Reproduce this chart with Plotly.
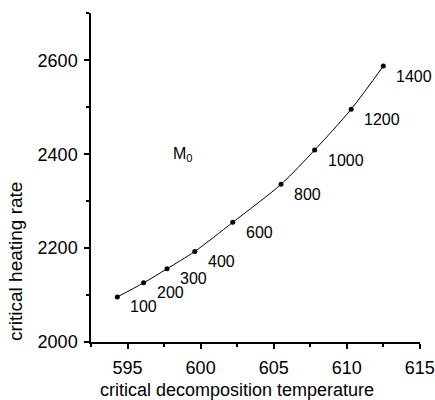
import plotly.graph_objects as go

temperature = [594.3, 596.1, 597.7, 599.6, 602.2, 605.5, 607.8, 610.3, 612.5]
heating_rate = [2096, 2126, 2156, 2193, 2255, 2336, 2409, 2496, 2588]
point_labels = ["100", "200", "300", "400", "600", "800", "1000", "1200", "1400"]

FONT = "Liberation Sans, Arial, sans-serif"

fig = go.Figure()
fig.add_trace(go.Scatter(
    x=temperature, y=heating_rate, mode="lines+markers",
    line=dict(color="black", width=1, shape="spline", smoothing=0.8),
    marker=dict(color="black", size=5),
    showlegend=False, hoverinfo="skip",
))

for x, y, t in zip(temperature, heating_rate, point_labels):
    fig.add_annotation(x=x, y=y, text=t, showarrow=False, xanchor="left",
                       yanchor="middle", xshift=11, yshift=-10,
                       font=dict(family=FONT, size=16, color="black"))

fig.add_annotation(x=598.8, y=2400, text="M<sub>0</sub>", showarrow=False,
                   font=dict(family=FONT, size=16, color="black"))

# axis titles (placed as in the reference)
fig.add_annotation(xref="paper", yref="paper", x=0.444, y=-0.146,
                   text="critical decomposition temperature", showarrow=False,
                   xanchor="center", yanchor="middle",
                   font=dict(family=FONT, size=18, color="black"))
fig.add_annotation(xref="paper", yref="paper", x=-0.231, y=0.243,
                   text="critical heating rate", showarrow=False, textangle=-90,
                   xanchor="center", yanchor="middle",
                   font=dict(family=FONT, size=19, color="black"))

fig.update_xaxes(
    range=[592.5, 615.01], tickmode="array", tickvals=[595, 600, 605, 610, 615],
    ticks="outside", ticklen=5, tickwidth=1.5, tickcolor="black",
    minor=dict(tickmode="array", tickvals=[592.5, 597.5, 602.5, 607.5, 612.5],
               ticks="outside", ticklen=3, tickcolor="black", tickwidth=1.5),
    showline=True, linecolor="black", linewidth=1.5, showgrid=False, zeroline=False,
    tickfont=dict(family=FONT, size=18, color="black"), automargin=False,
    ticklabelstandoff=4,
)
fig.update_yaxes(
    range=[2000, 2701], tickmode="array", tickvals=[2000, 2200, 2400, 2600],
    ticks="outside", ticklen=5, tickwidth=1.5, tickcolor="black",
    minor=dict(tickmode="array", tickvals=[2100, 2300, 2500, 2700],
               ticks="outside", ticklen=3, tickcolor="black", tickwidth=1.5),
    showline=True, linecolor="black", linewidth=1.5, showgrid=False, zeroline=False,
    tickfont=dict(family=FONT, size=18, color="black"), automargin=False,
    ticklabelstandoff=3,
)
fig.update_layout(
    width=435, height=400, margin=dict(l=91, r=15, t=13, b=58),
    paper_bgcolor="white", plot_bgcolor="white",
)
fig.write_html("out.html")
